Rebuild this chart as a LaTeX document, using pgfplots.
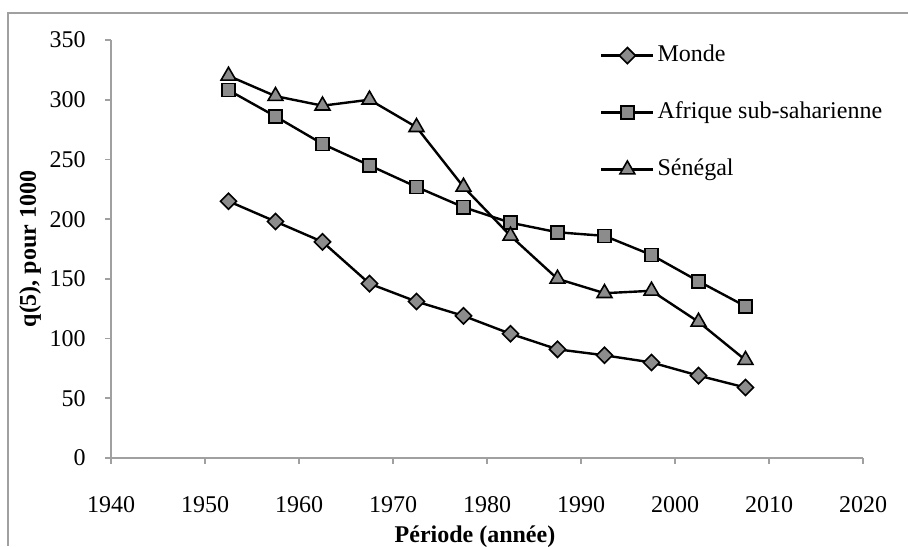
\documentclass[border=0pt]{standalone}
\usepackage{pgfplots}
\pgfplotsset{compat=1.18}
\usepackage{fontspec}
\setmainfont{Liberation Serif}
\definecolor{axgray}{RGB}{160,160,160}
\definecolor{mkgray}{RGB}{140,140,140}
\begin{document}
\fontsize{12pt}{14pt}\selectfont
\begin{tikzpicture}
\useasboundingbox (0,0) rectangle (454pt,273pt);
\draw[axgray, line width=0.8pt] (4pt,0) -- (4pt,266.5pt) -- (454pt,266.5pt);
\begin{axis}[
  at={(55.5pt,44pt)}, anchor=south west,
  scale only axis, width=376pt, height=209pt,
  xmin=1940, xmax=2020, ymin=0, ymax=350,
  xtick={1940,1950,...,2020}, ytick={0,50,...,350},
  axis x line*=bottom, axis y line*=left,
  axis line style={axgray, line width=0.8pt},
  tick style={axgray, line width=0.8pt},
  tick align=outside, major tick length=3pt,
  /pgf/number format/assume math mode=true,
  xticklabel style={/pgf/number format/1000 sep={}, font=\fontsize{12pt}{14pt}\selectfont, yshift=-12pt},
  yticklabel style={font=\fontsize{12pt}{14pt}\selectfont, xshift=-5.5pt},
  xlabel={\textbf{Période (année)}},
  ylabel={\textbf{q(5), pour 1000}},
  xlabel style={at={(axis description cs:0.5,0)}, anchor=center, xshift=-6pt, yshift=-39.5pt, font=\fontsize{12pt}{14pt}\selectfont},
  ylabel style={at={(axis description cs:-0.1077,0.5)}, anchor=center, font=\fontsize{12pt}{14pt}\selectfont},
  every axis plot/.append style={line width=1.2pt, black},
  legend style={at={(axis description cs:0.650,0.99)}, anchor=north west, draw=none, fill=none,
    inner sep=0pt, row sep=17.5pt, font=\fontsize{12pt}{14pt}\selectfont,
    nodes={inner ysep=0pt, inner xsep=1.5pt, text height=8.5pt, text depth=2.5pt}},
  legend cell align=left,
  legend image code/.code={\draw[mark repeat=2, mark phase=2] plot coordinates {(0pt,0pt) (13pt,0pt) (26pt,0pt)};},
]
\addplot[mark=square*, mark size=2.85pt, mark options={rotate=45, fill=mkgray, draw=black, line width=0.8pt}] coordinates {
(1952.5,215) (1957.5,198) (1962.5,181) (1967.5,146) (1972.5,131) (1977.5,119)
(1982.5,104) (1987.5,91) (1992.5,86) (1997.5,80) (2002.5,69) (2007.5,59)};
\addlegendentry{Monde}
\addplot[mark=square*, mark size=3.25pt, mark options={fill=mkgray, draw=black, line width=0.8pt}] coordinates {
(1952.5,308) (1957.5,286) (1962.5,263) (1967.5,245) (1972.5,227) (1977.5,210)
(1982.5,197) (1987.5,189) (1992.5,186) (1997.5,170) (2002.5,148) (2007.5,127)};
\addlegendentry{Afrique sub-saharienne}
\addplot[mark=triangle*, mark size=4.3pt, mark options={fill=mkgray, draw=black, line width=0.8pt}] coordinates {
(1952.5,320) (1957.5,303) (1962.5,295) (1967.5,300) (1972.5,277) (1977.5,227)
(1982.5,186) (1987.5,150) (1992.5,138) (1997.5,140) (2002.5,114) (2007.5,82)};
\addlegendentry{Sénégal}
\end{axis}
\end{tikzpicture}
\end{document}
